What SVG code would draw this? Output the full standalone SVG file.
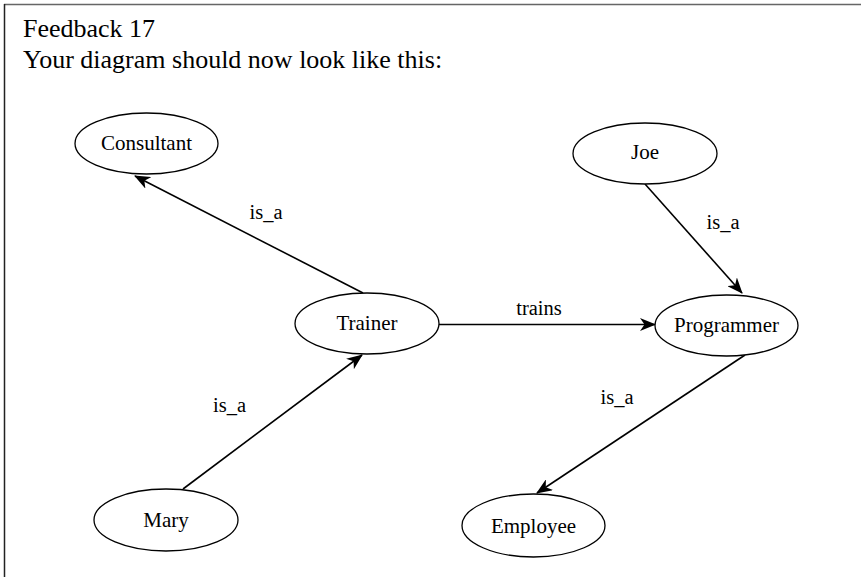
<svg xmlns="http://www.w3.org/2000/svg" width="861" height="577" viewBox="0 0 861 577">
  <style>
    .frame { fill: none; stroke-width: 1.5; }
    .title { font-family: "Liberation Serif", "Times New Roman", serif; font-size: 26px; fill: #000; }
    .node ellipse { fill: #fff; stroke: #000; stroke-width: 1.3; }
    .node text { font-family: "Liberation Serif", "Times New Roman", serif; font-size: 21px; fill: #000; text-anchor: middle; }
    .edge line { stroke: #000; stroke-width: 1.6; fill: none; }
    .label { font-family: "Liberation Serif", "Times New Roman", serif; font-size: 20.5px; fill: #000; text-anchor: middle; }
  </style>
  <defs>
    <marker id="arrow" viewBox="0 0 16 13" refX="15" refY="6.5" markerWidth="16" markerHeight="13" markerUnits="userSpaceOnUse" orient="auto">
      <path d="M0,0 L16,6.5 L0,13 L4.5,6.5 Z" fill="#000"/>
    </marker>
  </defs>

  <rect width="861" height="577" fill="#fff"/>
  <!-- panel frame: top and left rules -->
  <line class="frame" x1="4" y1="4.5" x2="861" y2="4.5" stroke="#666"/>
  <line class="frame" x1="4.5" y1="4" x2="4.5" y2="577" stroke="#222"/>

  <text class="title" x="23" y="37">Feedback 17</text>
  <text class="title" x="23" y="68">Your diagram should now look like this:</text>

  <!-- connectors -->
  <g id="edges">
    <g class="edge" id="trainer-consultant">
      <line x1="363" y1="293" x2="135" y2="176" marker-end="url(#arrow)"/>
      <text class="label" x="266" y="219">is_a</text>
    </g>
    <g class="edge" id="trainer-programmer">
      <line x1="439" y1="324.5" x2="655" y2="324.5" marker-end="url(#arrow)"/>
      <text class="label" x="539" y="315">trains</text>
    </g>
    <g class="edge" id="joe-programmer">
      <line x1="645" y1="184" x2="742" y2="293" marker-end="url(#arrow)"/>
      <text class="label" x="723" y="229">is_a</text>
    </g>
    <g class="edge" id="mary-trainer">
      <line x1="183" y1="489" x2="362" y2="355" marker-end="url(#arrow)"/>
      <text class="label" x="229.5" y="412">is_a</text>
    </g>
    <g class="edge" id="programmer-employee">
      <line x1="745" y1="355" x2="537" y2="493" marker-end="url(#arrow)"/>
      <text class="label" x="617" y="404">is_a</text>
    </g>
  </g>

  <!-- nodes -->
  <g class="node" id="consultant">
    <ellipse cx="146.5" cy="143.5" rx="71.5" ry="30.5"/>
    <text x="146.5" y="150">Consultant</text>
  </g>
  <g class="node" id="trainer">
    <ellipse cx="367" cy="323.5" rx="72" ry="30.5"/>
    <text x="367" y="329.5">Trainer</text>
  </g>
  <g class="node" id="joe">
    <ellipse cx="645" cy="153.5" rx="72" ry="30.5"/>
    <text x="645" y="159">Joe</text>
  </g>
  <g class="node" id="programmer">
    <ellipse cx="726.5" cy="325.5" rx="71.5" ry="30.5"/>
    <text x="726.5" y="331.5">Programmer</text>
  </g>
  <g class="node" id="mary">
    <ellipse cx="166" cy="520" rx="72" ry="31"/>
    <text x="166" y="527">Mary</text>
  </g>
  <g class="node" id="employee">
    <ellipse cx="533.5" cy="525.5" rx="71.5" ry="31.5"/>
    <text x="533.5" y="532.5">Employee</text>
  </g>
</svg>
